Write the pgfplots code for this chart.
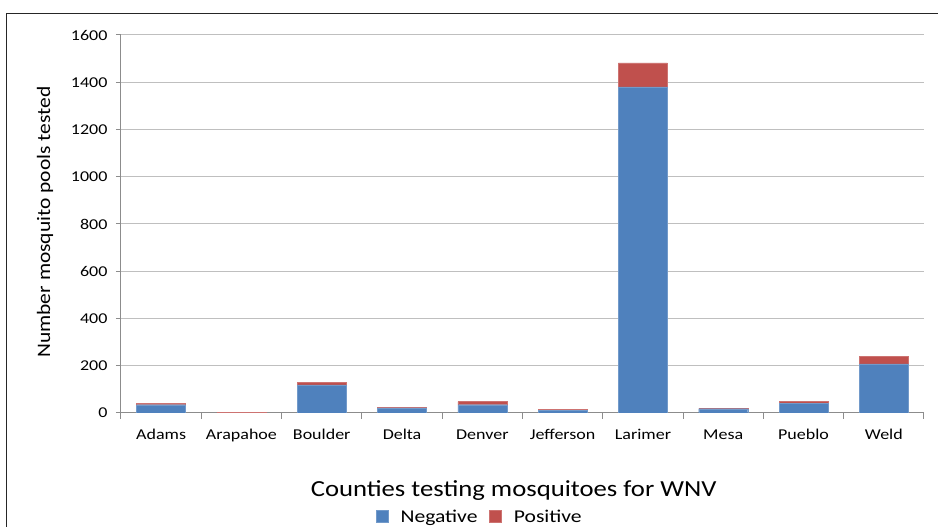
\documentclass[border=0pt]{standalone}
\usepackage{pgfplots}
\pgfplotsset{compat=1.18}
\usepackage{fontspec}
\setmainfont{Carlito}
\newfontfamily\tickfont[FakeStretch=1.2]{Carlito}
\newfontfamily\titlefont[FakeStretch=1.16]{Carlito}
\newfontfamily\ylabfont[FakeStretch=1.13]{Carlito}
\newfontfamily\legfont[FakeStretch=1.2]{Carlito}
\definecolor{negblue}{HTML}{4F81BD}
\definecolor{posred}{HTML}{C0504D}
\definecolor{gridgray}{HTML}{BFBFBF}
\definecolor{axisgray}{HTML}{8C8C8C}
\begin{document}
\begin{tikzpicture}
\path[use as bounding box] (0,0) rectangle (938pt,527pt);
\draw[line width=1.6pt,black!85] (6.5pt,0pt) -- (6.5pt,513.5pt) -- (938pt,513.5pt);
\begin{axis}[
  at={(121pt,114pt)}, anchor=south west,
  scale only axis, width=803pt, height=378pt,
  ybar stacked, bar width=49pt,
  xmin=-0.5, xmax=9.5, ymin=0, ymax=1600,
  axis x line=bottom, axis y line=left,
  axis line style={axisgray, line width=1pt, -},
  xtick={0,...,9},
  xticklabels={Adams,Arapahoe,Boulder,Delta,Denver,Jefferson,Larimer,Mesa,Pueblo,Weld},
  minor xtick={-0.5,0.5,...,9.5},
  major x tick style={draw=none},
  minor x tick style={axisgray, line width=1pt},
  minor tick length=6pt,
  ytick={0,200,...,1600},
  y tick style={axisgray, line width=1pt},
  major tick length=5pt,
  tick align=outside,
  ymajorgrids, grid style={gridgray, line width=1pt},
  /pgf/number format/assume math mode=true,
  /pgf/number format/1000 sep={},
  ticklabel style={font=\tickfont\fontsize{15}{17}\selectfont, text=black},
  xticklabel style={yshift=-8pt},
  yticklabel style={xshift=-5pt},
  xlabel={Counties testing mosquitoes for WNV},
  xlabel style={at={(axis description cs:0.489,-0.204)}, anchor=center, font=\titlefont\fontsize{23}{26}\selectfont},
  ylabel={Number mosquito pools tested},
  ylabel style={at={(axis description cs:-0.0946,0.505)}, anchor=center, font=\ylabfont\fontsize{19}{22}\selectfont},
  legend columns=2,
  legend style={at={(axis description cs:0.447,-0.275)}, anchor=center, draw=none, fill=none,
    font=\legfont\fontsize{18}{21}\selectfont, column sep=10pt},
  legend image code/.code={\fill[#1] (0pt,-5pt) rectangle (12pt,7pt);},
]
\addplot[fill=negblue, draw=negblue!80!white] coordinates {(0,35) (1,0) (2,119) (3,22) (4,35) (5,12) (6,1380) (7,18) (8,41) (9,208)};
\addplot[fill=posred, draw=posred!80!white] coordinates {(0,5) (1,3) (2,11) (3,3) (4,13) (5,3) (6,102) (7,1) (8,9) (9,33)};
\legend{Negative,Positive}
\end{axis}
\end{tikzpicture}
\end{document}
